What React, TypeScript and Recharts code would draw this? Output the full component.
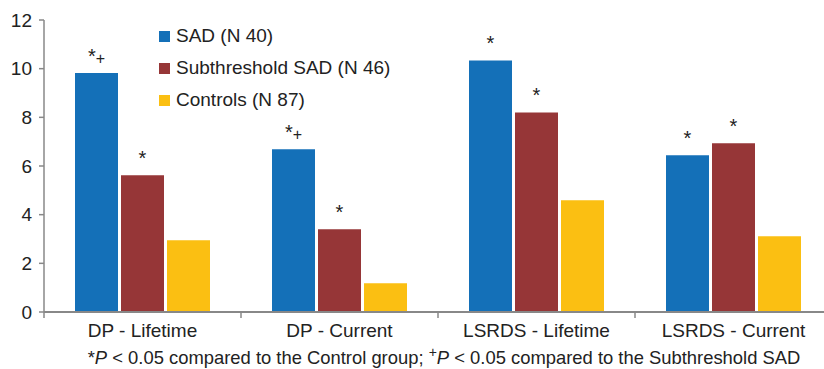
import { Bar, BarChart, LabelList, XAxis, YAxis } from "recharts";

const categories = ["DP - Lifetime", "DP - Current", "LSRDS - Lifetime", "LSRDS - Current"];
const sadValues = [9.82, 6.69, 10.34, 6.44];
const subthresholdValues = [5.62, 3.4, 8.2, 6.93];
const controlValues = [2.95, 1.18, 4.59, 3.11];
const sadMarks = ["*+", "*+", "*", "*"];
const subthresholdMarks = ["*", "*", "*", "*"];
const yTicks = [0, 2, 4, 6, 8, 10, 12];

const series = [
  { key: "sad", label: "SAD (N 40)", color: "#1470b8", marks: "sadMark" },
  { key: "sub", label: "Subthreshold SAD (N 46)", color: "#963637", marks: "subMark" },
  { key: "ctrl", label: "Controls (N 87)", color: "#fbbf12", marks: "" },
];

const data = categories.map((name, i) => ({
  name,
  sad: sadValues[i],
  sub: subthresholdValues[i],
  ctrl: controlValues[i],
  sadMark: sadMarks[i],
  subMark: subthresholdMarks[i],
}));

const font = "'Liberation Sans', Arial, sans-serif";
const textColor = "#222";
const axisColor = "#888";

function CategoryTick(props: any) {
  const { x, y, payload } = props;
  const half = payload?.offset ?? 98.5;
  return (
    <g>
      <line x1={x - half} x2={x - half} y1={y} y2={y + 6} stroke={axisColor} strokeWidth={1.5} />
      <text x={x} y={y + 25} textAnchor="middle" fontSize={19} fill={textColor} fontFamily={font}>
        {payload.value}
      </text>
    </g>
  );
}

// star is drawn at full size, the "+" a bit smaller like the original
function MarkLabel(props: any) {
  const { x, y, width, value } = props;
  if (!value) return null;
  const stars = String(value).replace("+", "");
  const plus = String(value).includes("+");
  return (
    <text x={x + width / 2} y={y - 10} textAnchor="middle" fill={textColor} fontFamily={font}>
      <tspan fontSize={20}>{stars}</tspan>
      {plus ? <tspan fontSize={16} dy={1}>+</tspan> : null}
    </text>
  );
}

function LegendBox() {
  return (
    <div
      style={{
        position: "absolute",
        left: 159,
        top: 20,
        fontFamily: font,
        fontSize: 19,
        color: textColor,
      }}
    >
      {series.map((s) => (
        <div key={s.key} style={{ display: "flex", alignItems: "center", height: 32 }}>
          <span style={{ width: 11, height: 11, background: s.color, marginRight: 6 }} />
          <span>{s.label}</span>
        </div>
      ))}
    </div>
  );
}

export default function App() {
  return (
    <div style={{ position: "absolute", left: 0, top: 0, width: 824, height: 369, overflow: "hidden", background: "#fff" }}>
      <BarChart
        width={840}
        height={369}
        data={data}
        margin={{ top: 20, right: 8, bottom: 27, left: 0 }}
        barSize={43}
        barGap={3}
      >
        <XAxis
          dataKey="name"
          stroke={axisColor}
          strokeWidth={2}
          tickLine={false}
          tickSize={0}
          tickMargin={0}
          height={30}
          interval={0}
          tick={<CategoryTick />}
        />
        <YAxis
          domain={[0, 12]}
          ticks={yTicks}
          width={44}
          stroke={axisColor}
          strokeWidth={1.5}
          tickSize={5}
          tickMargin={7}
          tick={{ fontSize: 19, fill: textColor, fontFamily: font }}
        />
        {series.map((s) => (
          <Bar key={s.key} dataKey={s.key} name={s.label} fill={s.color} isAnimationActive={false}>
            {s.marks ? <LabelList dataKey={s.marks} content={<MarkLabel />} /> : null}
          </Bar>
        ))}
      </BarChart>
      <LegendBox />
      <div
        style={{
          position: "absolute",
          left: 0,
          width: 888,
          top: 344,
          textAlign: "center",
          fontFamily: font,
          fontSize: 18.4,
          color: textColor,
          whiteSpace: "nowrap",
        }}
      >
        *<i>P</i> &lt; 0.05 compared to the Control group; <sup style={{ fontSize: 14 }}>+</sup>
        <i>P</i> &lt; 0.05 compared to the Subthreshold SAD
      </div>
    </div>
  );
}
